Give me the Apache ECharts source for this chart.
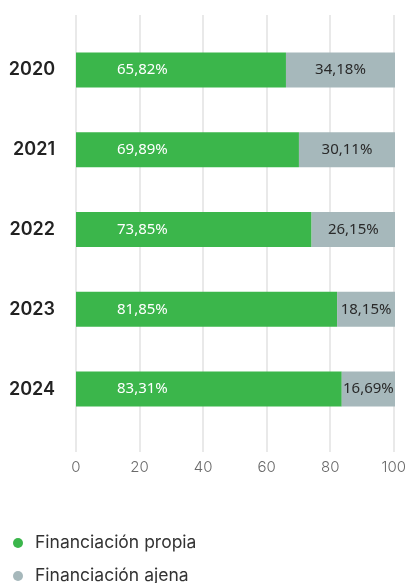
<!DOCTYPE html>
<html>
<head>
<meta charset="utf-8">
<script src="https://cdn.jsdelivr.net/npm/echarts@6/dist/echarts.min.js"></script>
<style>
  html, body { margin: 0; padding: 0; background: #fff; }
  #chart { width: 409px; height: 583px; }
</style>
</head>
<body>
<div id="chart"></div>
<script>
// datos
const years = ['2020', '2021', '2022', '2023', '2024']
const propia = [65.82, 69.89, 73.85, 81.85, 83.31]
const ajena = [34.18, 30.11, 26.15, 18.15, 16.69]
const xTicks = [0, 20, 40, 60, 80, 100]
const seriesNames = ['Financiación propia', 'Financiación ajena']
const colors = ['#3bb64b', '#a6b8bb']

const fmt = (v) => v.toFixed(2).replace('.', ',') + '%'

const chart = echarts.init(document.getElementById('chart'))

// una leyenda por fila
const legendRow = (name, top) => ({
  left: 8,
  top: top,
  itemWidth: 10,
  itemHeight: 10,
  icon: 'circle',
  textStyle: { fontSize: 17.5, color: '#333', padding: [0, 0, 0, 7] },
  data: [name],
})

const option = {
  animation: false,
  textStyle: { fontFamily: 'Inter, "Noto Sans", sans-serif' },
  // grid 0: solo lineas y etiquetas del eje x, grid 1: barras
  grid: [
    { left: 76, right: 14, top: 15, bottom: 131 },
    { left: 76, right: 14, top: 30, bottom: 154 },
  ],
  legend: [legendRow(seriesNames[0], 529), legendRow(seriesNames[1], 562)],
  xAxis: [
    {
      gridIndex: 0,
      type: 'value',
      min: xTicks[0],
      max: xTicks[xTicks.length - 1],
      interval: 20,
      axisLine: { show: false },
      axisTick: { show: false },
      splitLine: { lineStyle: { color: '#e2e2e2', width: 1.5 } },
      axisLabel: { color: '#6a6a6a', fontSize: 15, fontWeight: 300, margin: 8 },
    },
    {
      gridIndex: 1,
      type: 'value',
      min: 0,
      max: 100,
      show: false,
    },
  ],
  yAxis: [
    { gridIndex: 0, type: 'value', show: false },
    {
      gridIndex: 1,
      type: 'category',
      data: years,
      inverse: true,
      axisLine: { show: false },
      axisTick: { show: false },
      axisLabel: { color: '#222', fontSize: 18, fontWeight: 600, margin: 21 },
    },
  ],
  series: [
    {
      name: seriesNames[0],
      type: 'bar',
      stack: 'total',
      xAxisIndex: 1,
      yAxisIndex: 1,
      barWidth: 35,
      itemStyle: { color: colors[0] },
      label: {
        show: true,
        position: [41, '50%'],
        verticalAlign: 'middle',
        color: '#fff',
        fontSize: 15,
        fontFamily: '"Noto Sans", sans-serif',
        formatter: (p) => fmt(p.value),
      },
      data: propia,
    },
    {
      name: seriesNames[1],
      type: 'bar',
      stack: 'total',
      xAxisIndex: 1,
      yAxisIndex: 1,
      barWidth: 35,
      itemStyle: { color: colors[1] },
      label: {
        show: true,
        position: 'inside',
        color: '#2a2a2a',
        fontSize: 15,
        fontFamily: '"Noto Sans", sans-serif',
        formatter: (p) => fmt(p.value),
      },
      data: ajena,
    },
  ],
}

chart.setOption(option)
</script>
</body>
</html>
